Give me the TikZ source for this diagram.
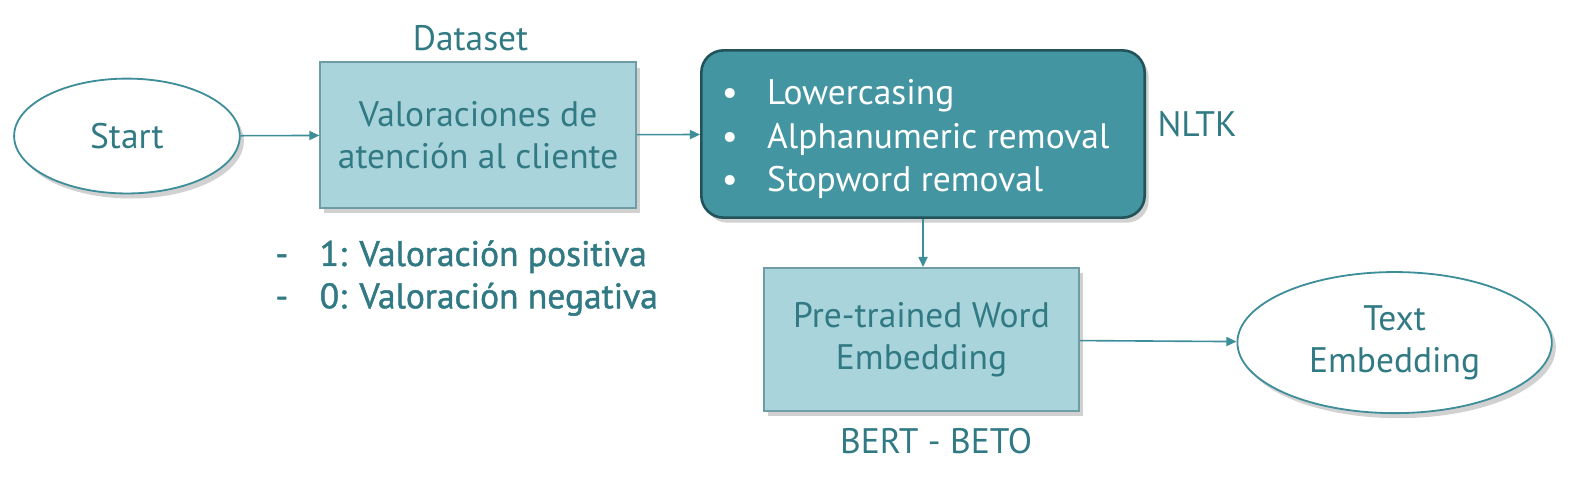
\documentclass[tikz,border=0pt]{standalone}
\usepackage{fontspec}
\setmainfont{PT Sans}
\newfontfamily\semibold{PT Sans}[FakeBold=1.3]
\usetikzlibrary{shadows,arrows.meta,shapes.geometric}
\definecolor{tealtxt}{HTML}{317A84}
\definecolor{lightfill}{HTML}{A9D4DB}
\definecolor{lightborder}{HTML}{6F9DA5}
\definecolor{darkfill}{HTML}{4495A2}
\definecolor{darkborder}{HTML}{22535B}
\definecolor{arrowc}{HTML}{3E8E9A}
\begin{document}
\begin{tikzpicture}[x=0.5pt,y=-0.5pt,
  font=\fontsize{17.6}{21}\selectfont,
  shadowed/.style={drop shadow={shadow xshift=2pt, shadow yshift=-2.5pt, opacity=0.3, fill=black!60}},
  lightbox/.style={rectangle, draw=lightborder, line width=1pt, fill=lightfill, text=tealtxt,
    align=center, inner sep=0pt, minimum width=156.5pt, minimum height=72pt, shadowed},
  darkbox/.style={rectangle, rounded corners=11pt, draw=darkborder, line width=1.3pt, fill=darkfill,
    text=white, inner sep=0pt, minimum width=220pt, minimum height=83pt, shadowed},
  terminal/.style={ellipse, draw=arrowc, line width=0.9pt, fill=white, text=tealtxt, align=center,
    inner sep=0pt, shadowed},
  label/.style={text=tealtxt, inner sep=0pt, align=left},
  flow/.style={draw=arrowc, line width=0.8pt, -{Triangle[length=5pt,width=4.5pt]}},
]
\useasboundingbox (0,0) rectangle (1568,480);

\node[terminal, minimum width=112pt, minimum height=57pt] (start) at (126,135) {Start};
\node[lightbox] (dataset) at (474.5,134) {Valoraciones de\\atención al cliente};
\node[label, anchor=base] (dslabel) at (467,50) {Dataset};
\node[label, anchor=west, font=\fontsize{17.6}{21}\semibold] (ratings) at (273,276)
  {\makebox[22pt][l]{-}1: Valoración positiva\\\makebox[22pt][l]{-}0: Valoración negativa};

\node[darkbox] (nltk) at (916,133) {};
\node[inner sep=0pt, anchor=west, text=white, align=left, font=\fontsize{17.6}{21.8}\selectfont] (steps) at (716,138)
  {\makebox[22.5pt][l]{\textbullet}Lowercasing\\\makebox[22.5pt][l]{\textbullet}Alphanumeric removal\\\makebox[22.5pt][l]{\textbullet}Stopword removal};
\node[label, anchor=base] (nltklabel) at (1188,135) {NLTK};

\node[lightbox, minimum height=71pt] (bert) at (914.5,337) {Pre-trained Word\\Embedding};
\node[label, anchor=base] (bertlabel) at (929,450) {BERT - BETO};

\node[terminal, minimum width=156pt, minimum height=70pt] (textemb) at (1384,340) {Text\\Embedding};

\draw[flow] (start) -- (dataset);
\draw[flow] (dataset) -- (nltk);
\draw[flow] (nltk.south) -- (nltk.south |- bert.north);
\draw[flow] (bert) -- (textemb);
\end{tikzpicture}
\end{document}
